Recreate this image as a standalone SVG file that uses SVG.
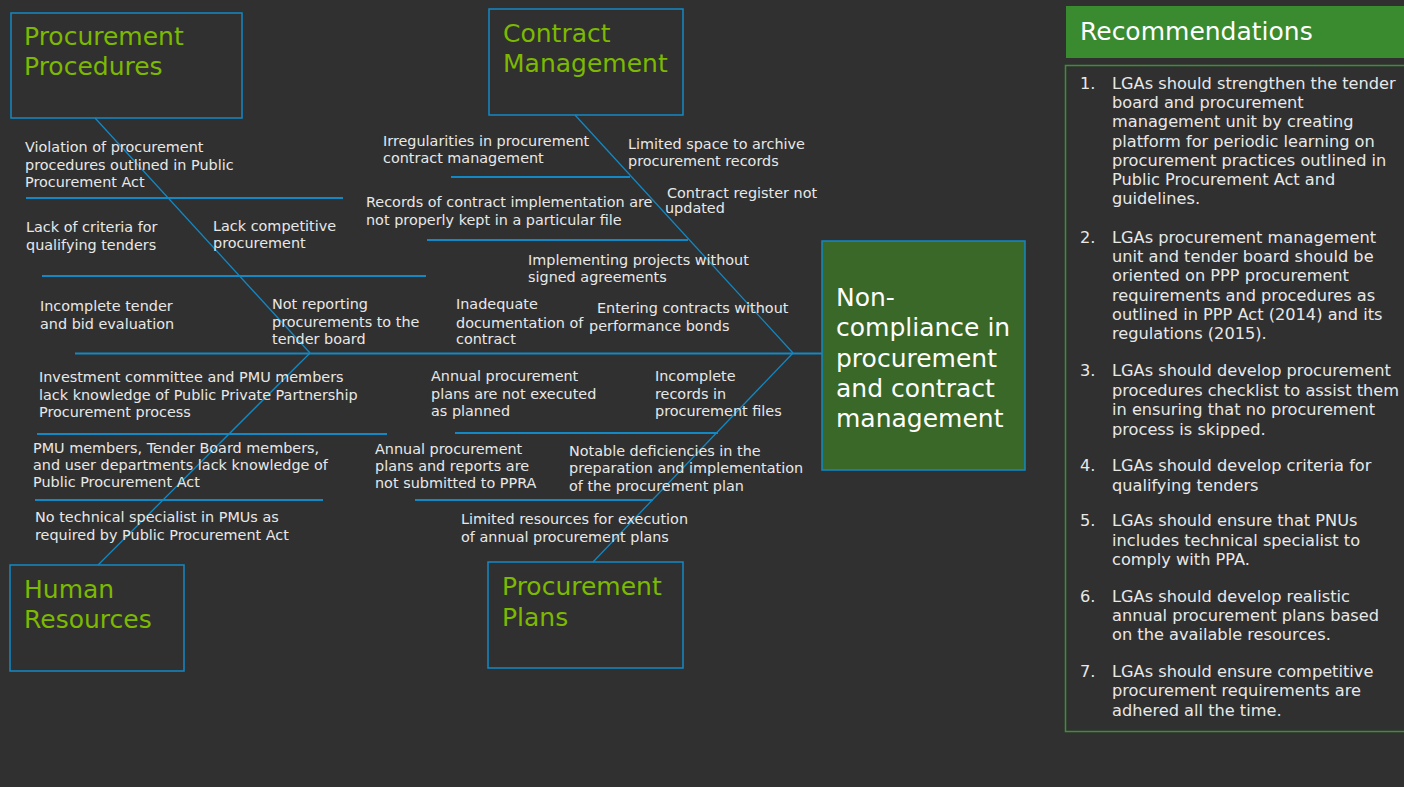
<svg xmlns="http://www.w3.org/2000/svg" width="1404" height="787" viewBox="0 0 1404 787">
<style>
.bg{fill:#303030}
.cat{fill:none;stroke:#1288c4;stroke-width:1.5}
.catt{font-family:"DejaVu Sans","Liberation Sans",sans-serif;font-size:25px;fill:#7cb900}
.lbl{font-family:"DejaVu Sans","Liberation Sans",sans-serif;font-size:14.4px;fill:#e8e8e8}
.bone{stroke:#1288c4;stroke-width:1.3;fill:none}
.spine{stroke:#1288c4;stroke-width:2;fill:none}
.rib{stroke:#1288c4;stroke-width:2;fill:none}
.eff{fill:#3a6828;stroke:#1288c4;stroke-width:1.5}
.efft{font-family:"DejaVu Sans","Liberation Sans",sans-serif;font-size:25px;fill:#ffffff}
.rect{font-family:"DejaVu Sans","Liberation Sans",sans-serif;font-size:16.2px;fill:#e8e8e8}
</style>
<rect class="bg" x="0" y="0" width="1404" height="787"/>

<g id="connectors">
  <line class="spine" x1="75" y1="353.5" x2="822" y2="353.5"/>
  <line class="bone" x1="95" y1="118" x2="310" y2="353"/>
  <line class="bone" x1="98" y1="565" x2="310" y2="353"/>
  <line class="bone" x1="575" y1="115" x2="793" y2="353"/>
  <line class="bone" x1="593" y1="562" x2="793" y2="353"/>
  <line class="rib" x1="26" y1="198" x2="343" y2="198"/>
  <line class="rib" x1="42" y1="276" x2="426" y2="276"/>
  <line class="rib" x1="451" y1="177" x2="630" y2="177"/>
  <line class="rib" x1="427" y1="240" x2="688" y2="240"/>
  <line class="rib" x1="37" y1="434" x2="387" y2="434"/>
  <line class="rib" x1="35" y1="500" x2="323" y2="500"/>
  <line class="rib" x1="455" y1="433" x2="718" y2="433"/>
  <line class="rib" x1="415" y1="500" x2="653" y2="500"/>
</g>

<g id="procurement-procedures">
  <rect class="cat" x="11" y="13" width="231" height="105"/>
  <text class="catt" x="24"><tspan x="24" y="45">Procurement</tspan><tspan x="24" y="75">Procedures</tspan></text>
</g>
<g id="contract-management">
  <rect class="cat" x="489" y="9" width="194" height="106"/>
  <text class="catt"><tspan x="503" y="42">Contract</tspan><tspan x="503" y="72">Management</tspan></text>
</g>
<g id="human-resources">
  <rect class="cat" x="10" y="565" width="174" height="106"/>
  <text class="catt"><tspan x="24" y="598">Human</tspan><tspan x="24" y="628">Resources</tspan></text>
</g>
<g id="procurement-plans">
  <rect class="cat" x="488" y="562" width="195" height="106"/>
  <text class="catt"><tspan x="502" y="595">Procurement</tspan><tspan x="502" y="626">Plans</tspan></text>
</g>
<g id="effect">
  <rect class="eff" x="822" y="241" width="203" height="229"/>
  <text class="efft"><tspan x="836" y="306">Non-</tspan><tspan x="836" y="336">compliance in</tspan><tspan x="836" y="367">procurement</tspan><tspan x="836" y="397">and contract</tspan><tspan x="836" y="427">management</tspan></text>
</g>

<g id="cause-violation"><text class="lbl"><tspan x="25" y="152">Violation of procurement</tspan><tspan x="25" y="170">procedures outlined in Public</tspan><tspan x="25" y="187">Procurement Act</tspan></text></g>
<g id="cause-criteria"><text class="lbl"><tspan x="26" y="232">Lack of criteria for</tspan><tspan x="26" y="250">qualifying tenders</tspan></text></g>
<g id="cause-competitive"><text class="lbl"><tspan x="213" y="231">Lack competitive</tspan><tspan x="213" y="248">procurement</tspan></text></g>
<g id="cause-evaluation"><text class="lbl"><tspan x="40" y="311">Incomplete tender</tspan><tspan x="40" y="329">and bid evaluation</tspan></text></g>
<g id="cause-reporting"><text class="lbl"><tspan x="272" y="309">Not reporting</tspan><tspan x="272" y="327">procurements to the</tspan><tspan x="272" y="344">tender board</tspan></text></g>

<g id="cause-irregularities"><text class="lbl"><tspan x="383" y="146">Irregularities in procurement</tspan><tspan x="383" y="163">contract management</tspan></text></g>
<g id="cause-space"><text class="lbl"><tspan x="628" y="149">Limited space to archive</tspan><tspan x="628" y="166">procurement records</tspan></text></g>
<g id="cause-records"><text class="lbl"><tspan x="366" y="207">Records of contract implementation are</tspan><tspan x="366" y="225">not properly kept in a particular file</tspan></text></g>
<g id="cause-register"><text class="lbl"><tspan x="667" y="198">Contract register not</tspan><tspan x="665" y="213">updated</tspan></text></g>
<g id="cause-agreements"><text class="lbl"><tspan x="528" y="265">Implementing projects without</tspan><tspan x="528" y="282">signed agreements</tspan></text></g>
<g id="cause-documentation"><text class="lbl"><tspan x="456" y="309">Inadequate</tspan><tspan x="456" y="328">documentation of</tspan><tspan x="456" y="344">contract</tspan></text></g>
<g id="cause-bonds"><text class="lbl"><tspan x="597" y="313">Entering contracts without</tspan><tspan x="589" y="331">performance bonds</tspan></text></g>

<g id="cause-ppp"><text class="lbl"><tspan x="39" y="382">Investment committee and PMU members</tspan><tspan x="39" y="400">lack knowledge of Public Private Partnership</tspan><tspan x="39" y="417">Procurement process</tspan></text></g>
<g id="cause-ppa"><text class="lbl"><tspan x="33" y="453">PMU members, Tender Board members,</tspan><tspan x="33" y="470">and user departments lack knowledge of</tspan><tspan x="33" y="487">Public Procurement Act</tspan></text></g>
<g id="cause-specialist"><text class="lbl"><tspan x="35" y="522">No technical specialist in PMUs as</tspan><tspan x="35" y="540">required by Public Procurement Act</tspan></text></g>

<g id="cause-not-executed"><text class="lbl"><tspan x="431" y="381">Annual procurement</tspan><tspan x="431" y="399">plans are not executed</tspan><tspan x="431" y="416">as planned</tspan></text></g>
<g id="cause-files"><text class="lbl"><tspan x="655" y="381">Incomplete</tspan><tspan x="655" y="399">records in</tspan><tspan x="655" y="416">procurement files</tspan></text></g>
<g id="cause-ppra"><text class="lbl"><tspan x="375" y="454">Annual procurement</tspan><tspan x="375" y="471">plans and reports are</tspan><tspan x="375" y="488">not submitted to PPRA</tspan></text></g>
<g id="cause-deficiencies"><text class="lbl"><tspan x="569" y="456">Notable deficiencies in the</tspan><tspan x="569" y="473">preparation and implementation</tspan><tspan x="569" y="491">of the procurement plan</tspan></text></g>
<g id="cause-resources"><text class="lbl"><tspan x="461" y="524">Limited resources for execution</tspan><tspan x="461" y="542">of annual procurement plans</tspan></text></g>

<g id="recommendations">
  <rect x="1066" y="6" width="340" height="52" fill="#3a8a2f"/>
  <text class="efft" x="1080" y="40">Recommendations</text>
  <rect x="1065.5" y="65.5" width="345" height="666" fill="none" stroke="#3d8f30" stroke-width="1.5"/>
  <text class="rect">
    <tspan x="1080" y="89">1.</tspan><tspan x="1112" y="89">LGAs should strengthen the tender</tspan>
    <tspan x="1112" y="108">board and procurement</tspan>
    <tspan x="1112" y="127">management unit by creating</tspan>
    <tspan x="1112" y="147">platform for periodic learning on</tspan>
    <tspan x="1112" y="166">procurement practices outlined in</tspan>
    <tspan x="1112" y="185">Public Procurement Act and</tspan>
    <tspan x="1112" y="204">guidelines.</tspan>
    <tspan x="1080" y="243">2.</tspan><tspan x="1112" y="243">LGAs procurement management</tspan>
    <tspan x="1112" y="262">unit and tender board should be</tspan>
    <tspan x="1112" y="281">oriented on PPP procurement</tspan>
    <tspan x="1112" y="301">requirements and procedures as</tspan>
    <tspan x="1112" y="320">outlined in PPP Act (2014) and its</tspan>
    <tspan x="1112" y="339">regulations (2015).</tspan>
    <tspan x="1080" y="376">3.</tspan><tspan x="1112" y="376">LGAs should develop procurement</tspan>
    <tspan x="1112" y="396">procedures checklist to assist them</tspan>
    <tspan x="1112" y="415">in ensuring that no procurement</tspan>
    <tspan x="1112" y="435">process is skipped.</tspan>
    <tspan x="1080" y="471">4.</tspan><tspan x="1112" y="471">LGAs should develop criteria for</tspan>
    <tspan x="1112" y="491">qualifying tenders</tspan>
    <tspan x="1080" y="526">5.</tspan><tspan x="1112" y="526">LGAs should ensure that PNUs</tspan>
    <tspan x="1112" y="546">includes technical specialist to</tspan>
    <tspan x="1112" y="565">comply with PPA.</tspan>
    <tspan x="1080" y="602">6.</tspan><tspan x="1112" y="602">LGAs should develop realistic</tspan>
    <tspan x="1112" y="621">annual procurement plans based</tspan>
    <tspan x="1112" y="640">on the available resources.</tspan>
    <tspan x="1080" y="677">7.</tspan><tspan x="1112" y="677">LGAs should ensure competitive</tspan>
    <tspan x="1112" y="696">procurement requirements are</tspan>
    <tspan x="1112" y="716">adhered all the time.</tspan>
  </text>
</g>
</svg>
